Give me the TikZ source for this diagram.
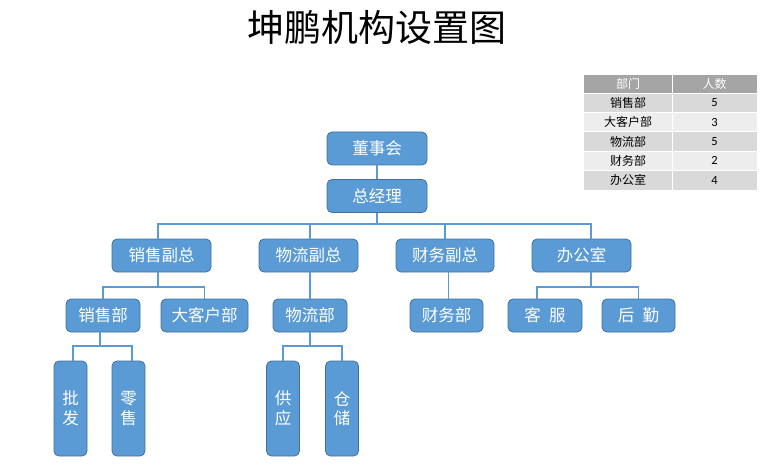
\documentclass[tikz,border=0pt]{standalone}
\usepackage{fontspec}
\setmainfont{Noto Sans CJK SC}
\newfontfamily\cjk{Noto Sans CJK SC}
\newfontfamily\numfont{Carlito}
\definecolor{boxfill}{HTML}{5B9BD5}
\definecolor{boxline}{HTML}{41719C}
\definecolor{linkc}{HTML}{5B9BD5}
\definecolor{hdr}{HTML}{A5A5A5}
\definecolor{rowa}{HTML}{D9D9D9}
\definecolor{rowb}{HTML}{EDEDED}
\tikzset{
  orgbox/.style={draw=boxline, fill=boxfill, line width=0.8pt, rounded corners=5pt,
    text=white, inner sep=0pt, font=\cjk\fontsize{16.5}{19}\selectfont},
  hbox/.style={orgbox, minimum width=#1, minimum height=33},
  vbox/.style={orgbox, minimum width=33, minimum height=95, align=center,
    font=\cjk\fontsize{16.5}{19.5}\selectfont},
  link/.style={draw=linkc, line width=1.2pt},
  cell/.style={inner sep=0pt, minimum height=19.4, font=\cjk\fontsize{12}{14}\selectfont, text=black},
  numcell/.style={cell, font=\numfont\fontsize{12.5}{14}\selectfont},
}
\begin{document}
\begin{tikzpicture}[x=1pt,y=-1pt]
\useasboundingbox[fill=white] (0,0) rectangle (778,473);
% title
\node[font=\cjk\fontsize{37}{42}\selectfont] (title) at (377,27) {坤鹏机构设置图};
% level 1-2
\node[hbox=100] (dsh) at (377,148.5) {董事会};
\node[hbox=100] (zjl) at (377,196) {总经理};
% level 3
\node[hbox=99] (xsfz) at (161.5,255.5) {销售副总};
\node[hbox=99] (wlfz) at (308.5,255.5) {物流副总};
\node[hbox=98] (cwfz) at (445,255.5) {财务副总};
\node[hbox=99] (bgs) at (581.5,255.5) {办公室};
% level 4
\node[hbox=74] (xsb) at (103,315.5) {销售部};
\node[hbox=87] (dkh) at (204.5,315.5) {大客户部};
\node[hbox=74] (wlb) at (310,315.5) {物流部};
\node[hbox=73] (cwb) at (446.5,315.5) {财务部};
\node[hbox=74] (kf) at (545,315.5) {客\hspace{0.5em}服};
\node[hbox=73] (hq) at (638.5,315.5) {后\hspace{0.5em}勤};
% level 5
\node[vbox] (pf) at (70.5,408.5) {批\\发};
\node[vbox] (ls) at (128.5,408.5) {零\\售};
\node[vbox] (gy) at (283,408.5) {供\\应};
\node[vbox] (cc) at (342,408.5) {仓\\储};
% connectors
\draw[link] (dsh) -- (zjl);
\coordinate (busy) at (0,224);
\draw[link] (zjl.south) -- (zjl.south |- busy) -| ([xshift=-3.5pt]xsfz.north);
\draw[link] (zjl.south |- busy) -| ([xshift=1.5pt]wlfz.north);
\draw[link] (zjl.south |- busy) -| (cwfz.north);
\draw[link] (zjl.south |- busy) -| ([xshift=9.5pt]bgs.north);
% sales
\coordinate (b1) at (0,287);
\draw[link] ([xshift=-3.5pt]xsfz.south) -- ([xshift=-3.5pt]xsfz.south |- b1) -| (xsb.north);
\draw[link] ([xshift=-3.5pt]xsfz.south |- b1) -| (dkh.north);
\draw[link] ([xshift=1.5pt]wlfz.south) -- (wlb.north);
\draw[link] ([xshift=3.5pt]cwfz.south) -- ([xshift=2pt]cwb.north);
\draw[link] ([xshift=9.5pt]bgs.south) -- ([xshift=9.5pt]bgs.south |- b1) -| ([xshift=-8pt]kf.north);
\draw[link] ([xshift=9.5pt]bgs.south |- b1) -| (hq.north);
\coordinate (b2) at (0,346);
\draw[link] ([xshift=-3pt]xsb.south) -- ([xshift=-3pt]xsb.south |- b2) -| ([xshift=2.5pt]pf.north);
\draw[link] ([xshift=-3pt]xsb.south |- b2) -| ([xshift=3.5pt]ls.north);
\draw[link] (wlb.south) -- (wlb.south |- b2) -| (gy.north);
\draw[link] (wlb.south |- b2) -| (cc.north);
% table
\fill[hdr] (584,75) rectangle (757,93);
\fill[rowa] (584,93) rectangle (757,112.4);
\fill[rowb] (584,112.4) rectangle (757,131.8);
\fill[rowa] (584,131.8) rectangle (757,151.2);
\fill[rowb] (584,151.2) rectangle (757,170.6);
\fill[rowa] (584,170.6) rectangle (757,190);
\draw[white, line width=0.8pt] (672,75) -- (672,190);
\foreach \yy in {93,112.4,131.8,151.2,170.6} \draw[white, line width=0.8pt] (584,\yy) -- (757,\yy);
\node[cell, text=white] (h1) at (628,84) {部门};
\node[cell, text=white] (h2) at (714.5,84) {人数};
\node[cell] (d1) at (628,102.7) {销售部};
\node[cell] (d2) at (628,122.1) {大客户部};
\node[cell] (d3) at (628,141.5) {物流部};
\node[cell] (d4) at (628,160.9) {财务部};
\node[cell] (d5) at (628,180.3) {办公室};
\node[numcell] (n1) at (714.5,102.7) {5};
\node[numcell] (n2) at (714.5,122.1) {3};
\node[numcell] (n3) at (714.5,141.5) {5};
\node[numcell] (n4) at (714.5,160.9) {2};
\node[numcell] (n5) at (714.5,180.3) {4};
\end{tikzpicture}
\end{document}
